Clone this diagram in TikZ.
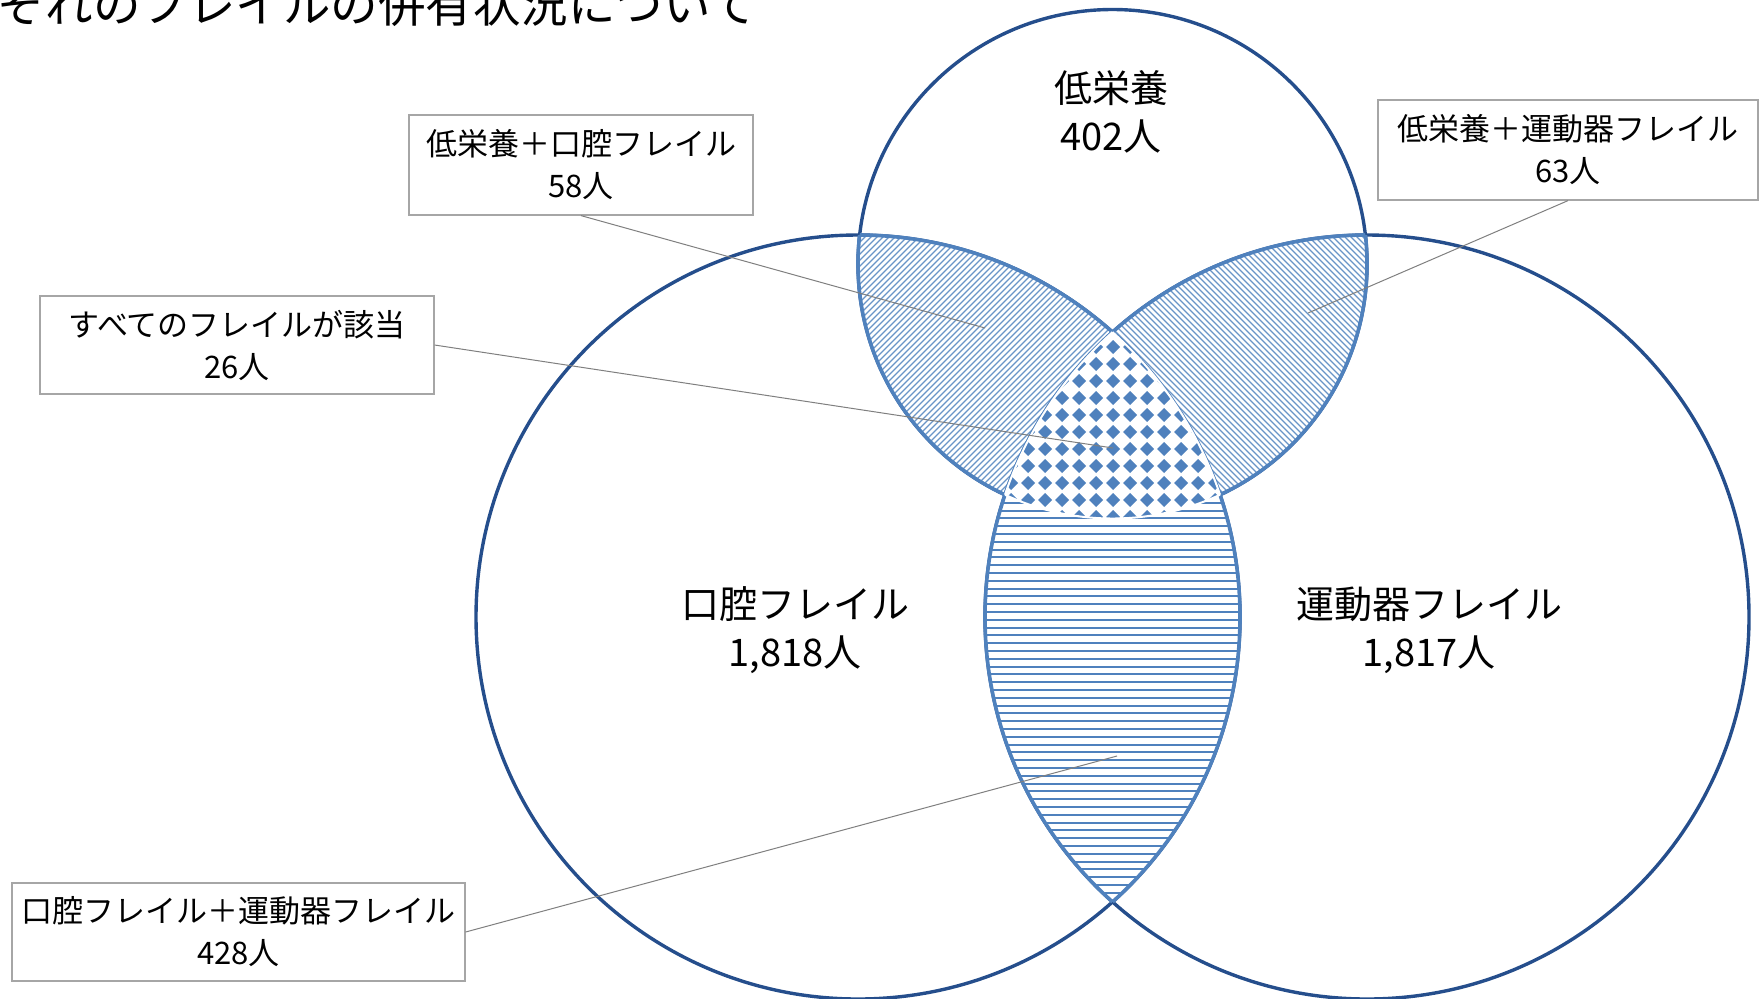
\documentclass[tikz,border=0pt]{standalone}
\usepackage{fontspec}
\setmainfont{Noto Sans CJK JP}
\definecolor{circ}{HTML}{254E8C}
\definecolor{lens}{HTML}{4F81BD}
\definecolor{leader}{HTML}{7F7F7F}
\definecolor{boxline}{HTML}{A6A6A6}
\begin{document}
\begin{tikzpicture}[x=0.5pt,y=-0.5pt,
  circline/.style={draw=circ,line width=1.7pt},
  lensline/.style={draw=lens,line width=1.8pt},
  pat/.style={draw=lens!85,line width=0.6pt},
  bigtext/.style={align=center,font=\fontsize{19}{24}\selectfont,inner sep=0pt},
  boxlabel/.style={draw=boxline,line width=0.6pt,align=center,font=\fontsize{15.5}{21}\selectfont,inner sep=0pt},
  leaderline/.style={draw=leader,line width=0.5pt}]
\useasboundingbox (0,0) rectangle (1764,998);
\clip (0,0) rectangle (1764,998);
\coordinate (cT) at (1112.5,264);
\coordinate (cL) at (858,617);
\coordinate (cR) at (1367,617);
\def\cirT{(cT) circle [radius=254.5]}
\def\cirL{(cL) circle [radius=382]}
\def\cirR{(cR) circle [radius=382]}
% circles
\draw[circline] \cirT;
\draw[circline] \cirL;
\draw[circline] \cirR;
% top-left lens
\begin{scope}
  \clip \cirT; \clip \cirL;
  \fill[white] (800,200) rectangle (1250,560);
  \foreach \k in {1060,1066,...,1660} \draw[pat] (\k-200,200) -- (\k-600,600);
\end{scope}
\begin{scope}\clip \cirT; \draw[lensline] \cirL; \end{scope}
\begin{scope}\clip \cirL; \draw[lensline] \cirT; \end{scope}
% top-right lens
\begin{scope}
  \clip \cirT; \clip \cirR;
  \fill[white] (1000,200) rectangle (1400,560);
  \foreach \k in {580,586,...,1160} \draw[pat] (\k+200,200) -- (\k+600,600);
\end{scope}
\begin{scope}\clip \cirT; \draw[lensline] \cirR; \end{scope}
\begin{scope}\clip \cirR; \draw[lensline] \cirT; \end{scope}
% bottom lens
\begin{scope}
  \clip \cirL; \clip \cirR;
  \fill[white] (850,280) rectangle (1380,920);
  \foreach \k in {0,...,80} \draw[draw=lens,line width=1pt] (850,{300+7.8*\k}) -- (1380,{300+7.8*\k});
\end{scope}
\begin{scope}\clip \cirL; \draw[lensline] \cirR; \end{scope}
\begin{scope}\clip \cirR; \draw[lensline] \cirL; \end{scope}
% centre region
\begin{scope}
  \clip \cirT; \clip \cirL; \clip \cirR;
  \fill[white] (980,320) rectangle (1250,530);
  \foreach \i in {-8,...,8} {
    \foreach \j in {0,...,11} {
      \fill[lens] ({1113+17*\i},{347+17*\j}) ++(-7,0) -- ++(7,-7) -- ++(7,7) -- ++(-7,7) -- cycle;
    }
  }
\end{scope}
\begin{scope}\clip \cirT; \clip \cirL; \draw[white,line width=1pt] \cirR; \end{scope}
\begin{scope}\clip \cirT; \clip \cirR; \draw[white,line width=1pt] \cirL; \end{scope}
\begin{scope}\clip \cirL; \clip \cirR; \draw[white,line width=1pt] \cirT; \end{scope}
% title
\node[anchor=base west,inner sep=0pt,font=\fontsize{23.75}{24}\selectfont] (title) at (-97,22) {それぞれのフレイルの併有状況について};
% big labels
\node[bigtext] (lT) at (1111,112) {低栄養\\402人};
\node[bigtext] (lL) at (795,630) {口腔フレイル\\1,818人};
\node[bigtext] (lR) at (1429,630) {運動器フレイル\\1,817人};
% boxes
\node[boxlabel,minimum width=172pt,minimum height=50pt] (b1) at (581,165) {低栄養＋口腔フレイル\\58人};
\node[boxlabel,minimum width=190pt,minimum height=50pt] (b2) at (1568,150) {低栄養＋運動器フレイル\\63人};
\node[boxlabel,minimum width=197pt,minimum height=49pt] (b3) at (237,345) {すべてのフレイルが該当\\26人};
\node[boxlabel,minimum width=226.5pt,minimum height=49pt] (b4) at (238.5,932) {口腔フレイル＋運動器フレイル\\428人};
% leaders
\coordinate (e1) at (985,328);
\coordinate (e2) at (1308,313);
\coordinate (e3) at (1113,448);
\coordinate (e4) at (1117,756);
\draw[leaderline] (b1.south) -- (e1);
\draw[leaderline] (b2.south) -- (e2);
\draw[leaderline] (b3.east) -- (e3);
\draw[leaderline] (b4.east) -- (e4);
\end{tikzpicture}
\end{document}
